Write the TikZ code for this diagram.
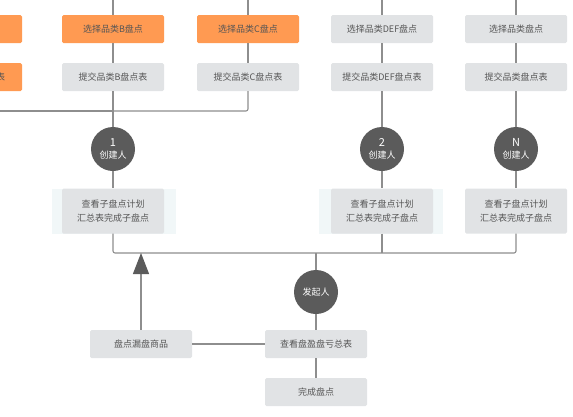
\documentclass[tikz,border=0pt]{standalone}
\usepackage{fontspec}
\setmainfont{Noto Sans CJK SC}
\usepackage{xcolor}
\usetikzlibrary{positioning,arrows.meta}

\definecolor{boxorange}{HTML}{FF9A52}
\definecolor{boxgray}{HTML}{E1E3E5}
\definecolor{halocyan}{HTML}{F1F7F8}
\definecolor{circlegray}{HTML}{5B5B5B}
\definecolor{linegray}{HTML}{8E8E8E}
\definecolor{textgray}{HTML}{555555}

\begin{document}
\begin{tikzpicture}[
    x=1pt, y=-1pt,
    orangebox/.style={rectangle, fill=boxorange, rounded corners=1.5pt, minimum width=102pt, minimum height=28pt, align=center, font=\fontsize{9}{11}\selectfont, text=textgray},
    graybox/.style={rectangle, fill=boxgray, rounded corners=1.5pt, minimum width=102pt, minimum height=28pt, align=center, font=\fontsize{9}{11}\selectfont, text=textgray},
    viewbox/.style={graybox, minimum height=45pt, font=\fontsize{9}{14}\selectfont},
    halo/.style={rectangle, fill=halocyan, minimum width=124pt, minimum height=45pt},
    person/.style={circle, fill=circlegray, minimum size=44pt, inner sep=0pt, align=center, text=white, font=\fontsize{9}{12}\selectfont},
    line/.style={draw=linegray, line width=1.1pt},
    uparrow/.style={line, -{Triangle[length=21pt, width=16pt, color=circlegray]}},
]

\useasboundingbox (0,0) rectangle (573,416);
\clip (0,0) rectangle (573,416);

% --- ROW 1: SELECT CATEGORY (y=29) ---
\node[orangebox] (selA)   at (-29, 29) {选择品类A盘点};
\node[orangebox] (selB)   at (113, 29) {选择品类B盘点};
\node[orangebox] (selC)   at (248, 29) {选择品类C盘点};
\node[graybox]   (selDEF) at (382, 29) {选择品类DEF盘点};
\node[graybox]   (selX)   at (516, 29) {选择品类盘点};

% --- ROW 2: SUBMIT SHEET (y=77) ---
\node[orangebox] (subA)   at (-29, 77) {提交品类A盘点表};
\node[graybox]   (subB)   at (113, 77) {提交品类B盘点表};
\node[graybox]   (subC)   at (248, 77) {提交品类C盘点表};
\node[graybox]   (subDEF) at (382, 77) {提交品类DEF盘点表};
\node[graybox]   (subX)   at (516, 77) {提交品类盘点表};

% --- ROW 3: CREATORS (y=149) ---
\node[person] (c1) at (113, 149) {{\fontsize{11}{12}\selectfont 1}\\创建人};
\node[person] (c2) at (382, 149) {{\fontsize{11}{12}\selectfont 2}\\创建人};
\node[person] (cN) at (516, 149) {{\fontsize{11}{12}\selectfont N}\\创建人};

% --- ROW 4: SUB-COUNT SUMMARY (y=211) ---
\node[halo] (halo1) at (114, 211) {};
\node[halo] (halo2) at (381, 211) {};
\node[viewbox] (v1) at (113, 211) {查看子盘点计划\\汇总表完成子盘点};
\node[viewbox] (v2) at (382, 211) {查看子盘点计划\\汇总表完成子盘点};
\node[viewbox] (vN) at (516, 211) {查看子盘点计划\\汇总表完成子盘点};

% --- ROW 5: INITIATOR AND RESULTS ---
\node[person]   (init)    at (316, 292) {发起人};
\node[graybox]  (summary) at (316, 344) {查看盘盈盘亏总表};
\node[graybox]  (missed)  at (141, 344) {盘点漏盘商品};
\node[graybox]  (done)    at (316, 392) {完成盘点};

% --- HELPER COORDINATES ---
\coordinate (topA)   at (-29, -5);
\coordinate (topB)   at (113, -5);
\coordinate (topC)   at (248, -5);
\coordinate (topDEF) at (382, -5);
\coordinate (topX)   at (516, -5);
\coordinate (join)   at (113, 111);
\coordinate (merge)  at (316, 253);

% =======================================================================
% CONNECTORS
% =======================================================================

% --- 1. TOP: start -> select -> submit ---
\foreach \c in {A,B,C,DEF,X} {
    \draw[line] (top\c) -- (sel\c);
    \draw[line] (sel\c) -- (sub\c);
}

% --- 2. CATEGORIES JOIN AT CREATOR 1 ---
\draw[line] (subA) |- (join);
\draw[line, rounded corners=2pt] (subC) |- (join);
\draw[line] (subB) -- (c1);
\draw[line] (subDEF) -- (c2);
\draw[line] (subX) -- (cN);

% --- 3. CREATORS -> SUB-COUNT ---
\draw[line] (c1) -- (v1);
\draw[line] (c2) -- (v2);
\draw[line] (cN) -- (vN);

% --- 4. MERGE TO INITIATOR ---
\draw[line, rounded corners=2pt] (v1) |- (merge) -| (vN);
\draw[line] (v2) -- (v2 |- merge);
\draw[line] (merge) -- (init);
\draw[line] (init) -- (summary);
\draw[line] (summary) -- (done);
\draw[line] (missed) -- (summary);

% --- 5. MISSED ITEMS BACK TO RECOUNT ---
\draw[uparrow] (missed) -- (missed |- merge);

\end{tikzpicture}
\end{document}
